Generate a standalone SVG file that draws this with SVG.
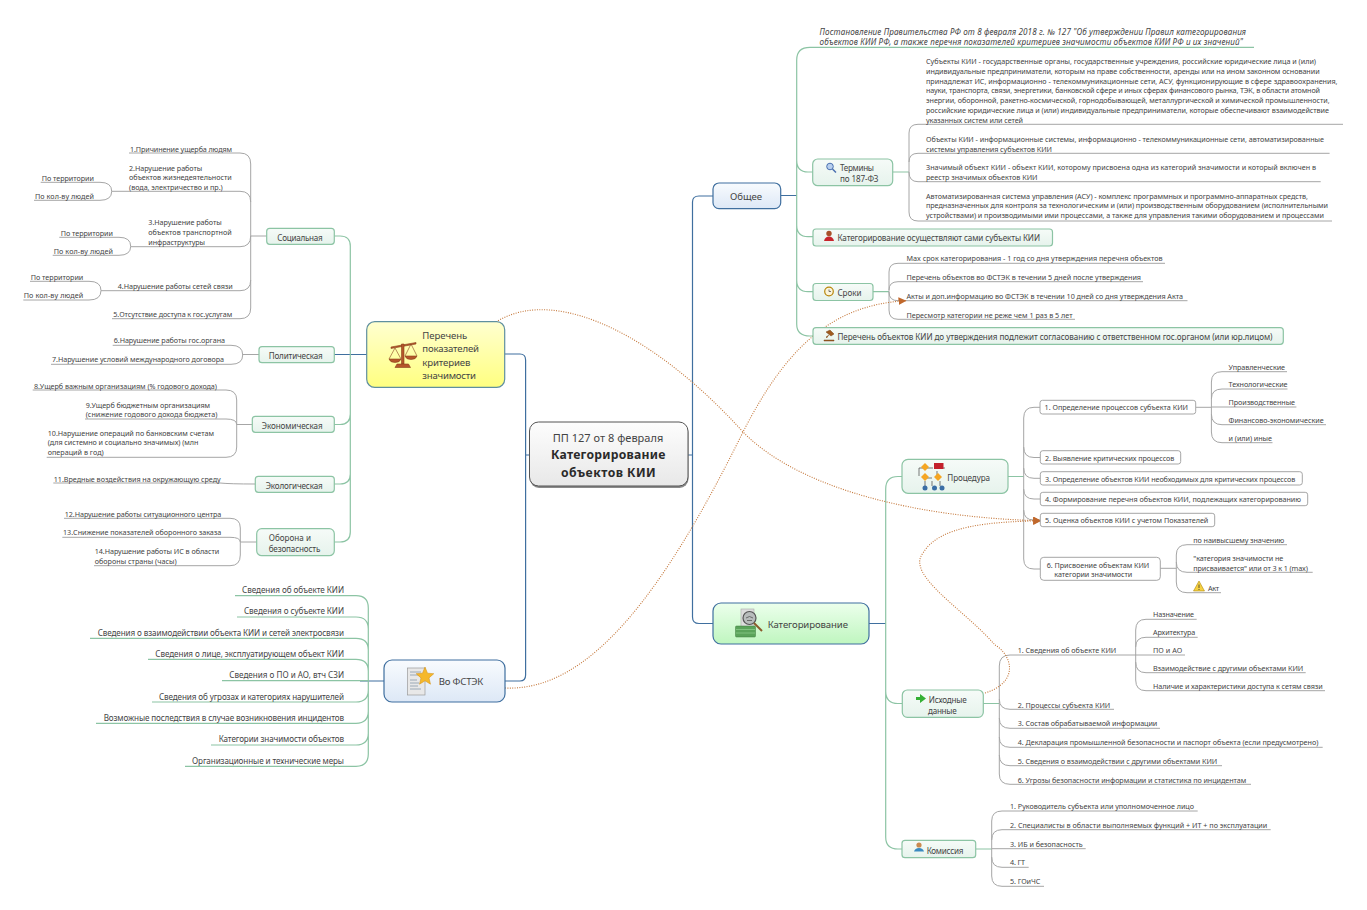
<svg xmlns="http://www.w3.org/2000/svg" width="1367" height="910" viewBox="0 0 1367 910">
<style>
text{font-family:"Noto Sans","Open Sans","Liberation Sans",sans-serif;font-size:7.2px;fill:#444;dominant-baseline:central}
.m{font-size:8.1px}.l{font-size:9.6px}.b{font-size:12.2px;font-weight:700;fill:#2a2a2a}.c{font-size:11px}.i{font-style:italic}
.g{fill:none;stroke:#a6a6a6;stroke-width:1}.e{fill:none;stroke:#8cc4a4;stroke-width:1.2}.u{fill:none;stroke:#3f6f9f;stroke-width:1.2}
.d{fill:none;stroke:#c4773a;stroke-width:1.1;stroke-dasharray:1 1.4}
.ng{fill:url(#gg);stroke:#8cc4a4;stroke-width:1.2}.nw{fill:#fff;stroke:#a6a6a6;stroke-width:1}
</style>
<defs>
<linearGradient id="gg" x1="0" y1="0" x2="0" y2="1"><stop offset="0" stop-color="#f6fbf8"/><stop offset="1" stop-color="#e6f3ec"/></linearGradient>
<linearGradient id="gc" x1="0" y1="0" x2="0" y2="1"><stop offset="0" stop-color="#fdfdfd"/><stop offset="1" stop-color="#e8e8e8"/></linearGradient>
<linearGradient id="gy" x1="0" y1="0" x2="0" y2="1"><stop offset="0" stop-color="#ffffd0"/><stop offset="1" stop-color="#ffff80"/></linearGradient>
<linearGradient id="gb" x1="0" y1="0" x2="0" y2="1"><stop offset="0" stop-color="#f8fbfe"/><stop offset="1" stop-color="#dde8f6"/></linearGradient>
<linearGradient id="gn" x1="0" y1="0" x2="0" y2="1"><stop offset="0" stop-color="#ecffec"/><stop offset="1" stop-color="#bff6bf"/></linearGradient>
<marker id="ar" markerWidth="9" markerHeight="9" refX="7.5" refY="4" orient="auto" markerUnits="userSpaceOnUse"><path d="M0 0L8 4L0 8z" fill="#c0682c"/></marker>
</defs>

<g id="connectors">
<path class="u" d="M505 354H520Q525.6 354 525.6 360V675Q525.6 681 520 681H505M525.6 455H530"/>
<path class="u" d="M688 455H692.5M713 196H699Q692.5 196 692.5 202V617Q692.5 623.5 699 623.5H713M869 623.5H886M781 195.500H797"/>
<path class="u" d="M334 354.500H367M360 681H384"/>
<path class="e" d="M1254 47.300H810Q796.700 47.300 796.700 60V324Q796.700 336 810 336H813M796.700 160Q796.700 172 808 172H813M796.700 225Q796.700 236.700 808 236.700H813M796.700 280Q796.700 291.700 808 291.700H813"/>
<path class="e" d="M893 172H909M873 291.700H889M1008 476.500H1023.700M983 703.500H999.300M976 849H991.700"/>
<path class="e" d="M902 476.500H898Q885.700 476.500 885.700 489V837Q885.700 849 898 849H902M885.700 691Q885.700 703.500 898 703.500H902"/>
<path class="e" d="M334 236H340Q350.300 236 350.300 246V532Q350.300 542 340 542H334M350.300 414Q350.300 424.500 340 424.500H334M350.300 474Q350.300 484 340 484H334"/>
<path class="e" d="M235 595.700H356Q368.300 595.700 368.300 608V754Q368.300 766.300 356 766.300H185M237 617H356Q368.300 617 368.300 629M90 638.300H356Q368.300 638.300 368.300 650M148 659.300H356Q368.300 659.300 368.300 671M222 680.700H368.300M152 702H356Q368.300 702 368.300 690M96 723.300H356Q368.300 723.300 368.300 711M211 745H356Q368.300 745 368.300 733"/>
<g class="g">
<path class="g" d="M918 221H1332M918 124.300H1343M918 221Q909 221 909 212V133Q909 124.300 918 124.300M918 153.300H1329.600M909 162Q909 153.300 918 153.300M918 181.700H1320.700M909 172Q909 181.700 918 181.700"/>
<path class="g" d="M1165 263.300H898Q889 263.300 889 272V310Q889 319.300 898 319.300H1075M889 290Q889 281.700 898 281.700H1143M889 292Q889 300.700 898 300.700H1187.500"/>
<path class="g" d="M1040 407.300H1034Q1023.700 407.300 1023.700 418V559Q1023.700 569 1034 569H1040M1023.700 447Q1023.700 457.500 1034 457.500H1040M1023.700 468Q1023.700 478.300 1034 478.300H1040M1023.700 489Q1023.700 499 1034 499H1040M1023.700 510Q1023.700 520 1034 520H1040"/>
<path class="g" d="M1196 407.300H1211.400M1287 371.700H1222Q1211.400 371.700 1211.400 382V432Q1211.400 442.700 1222 442.700H1272.500M1211.400 399Q1211.400 389 1222 389H1287.500M1211.400 407H1296.400M1211.400 414Q1211.400 424.700 1222 424.700H1326"/>
<path class="g" d="M1160 568.300H1176.300M1287 544.700H1187Q1176.300 544.700 1176.300 555V582Q1176.300 592.700 1187 592.700H1221M1176.300 562Q1176.300 572.300 1187 572.300H1312.700"/>
<path class="g" d="M1136 655H1010Q999.300 655 999.300 666V774Q999.300 784.300 1010 784.300H1251M999.300 699Q999.300 709.300 1010 709.300H1114M999.300 718Q999.300 728.300 1010 728.300H1160M999.300 737Q999.300 747.300 1010 747.300H1322.700M999.300 755Q999.300 765.700 1010 765.700H1222"/>
<path class="g" d="M1196.700 619.300H1146Q1135.700 619.300 1135.700 630V680Q1135.700 690.700 1146 690.700H1325M1135.700 647Q1135.700 637.300 1146 637.300H1197.700M1135.700 655H1185M1135.700 662Q1135.700 672.700 1146 672.700H1305.700"/>
<path class="g" d="M1197.700 811H1002Q991.700 811 991.700 821V876Q991.700 886.300 1002 886.300H1044M991.700 840Q991.700 829.700 1002 829.700H1270.700M991.700 848.700H1085.700M991.700 857Q991.700 867.300 1002 867.300H1028.700"/>
<path class="g" d="M129 153H240Q250.700 153 250.700 164V308Q250.700 318.700 240 318.700H112M111.700 191.300H240Q250.700 191.300 250.700 202M130.700 246.700H240Q250.700 246.700 250.700 236M101 290.700H240Q250.700 290.700 250.700 280M250.700 236H267"/>
<path class="g" d="M40.700 182.300H100Q111.700 182.300 111.700 191.300Q111.700 200.300 100 200.300H34M59.300 237.300H119Q130.700 237.300 130.700 246.300Q130.700 255.300 119 255.300H52.700M30 281.300H89Q101 281.300 101 290.500Q101 300 89 300H23.300"/>
<path class="g" d="M112.700 345.300H231Q242.700 345.300 242.700 355Q242.700 364.300 231 364.300H51M242.700 354.500H259"/>
<path class="g" d="M32.700 390H226Q236.700 390 236.700 400V447Q236.700 457.300 226 457.300H46.700M85 419H226Q236.700 419 236.700 424.500M236.700 424.500H252"/>
<path class="g" d="M53.300 483H220Q230 484 255 484"/>
<path class="g" d="M64 518.300H230Q240.300 518.300 240.300 528V555Q240.300 565.700 230 565.700H94M62.300 537.300H230Q240.300 537.300 240.300 542M240.300 542H257"/>
</g>
<path class="d" marker-end="url(#ar)" d="M505 688C590 692 665 590 743 432C785 350 830 305 906 300.700"/>
<path class="d" marker-end="url(#ar)" d="M498 320.700C560 285 660 340 743 432C800 490 920 518 1040.700 520.700"/>
<path class="d" marker-end="url(#ar)" d="M985 693C1020 682 1012 655 995 645C965 610 905 575 923 553C940 525 990 522 1040.700 520.700"/>
</g>

<g id="n-center"><rect x="530" y="424" width="158.500" height="64" rx="9" fill="#8a8a8a"/><rect x="529.500" y="422" width="158.500" height="64" rx="9" fill="url(#gc)" stroke="#555"/>
<text class="c" x="552.700" y="437.500" textLength="110.600">ПП 127 от 8 февраля</text><text class="b" x="551" y="454" textLength="114.300">Категорирование</text><text class="b" x="561" y="472" textLength="94.700">объектов КИИ</text></g>

<g id="n-perechen"><rect x="366.700" y="321.700" width="138" height="65.600" rx="8" fill="url(#gy)" stroke="#5f8f9f" stroke-width="1.2"/>
<g fill="#b5562a" stroke="#8a3f1c" stroke-width=".6"><path d="M391 347L416 342.500V344L391 348.500z"/><path d="M401.500 344h2.500v20h-2.500z"/><path d="M397 364h11.500l2 3.500h-15.500z"/><path d="M389 359h12q-1 3.500-6 3.500t-6-3.500zM405 356h12q-1 3.500-6 3.500t-6-3.500z"/><path fill="none" d="M395 348l-6 11M395 348l6 11M411 344l-6 12M411 344l6 12"/></g>
<text class="l" x="422.300" y="335" textLength="45">Перечень</text><text class="l" x="422.300" y="348.300" textLength="56.700">показателей</text><text class="l" x="422.300" y="362" textLength="48">критериев</text><text class="l" x="422.300" y="375.300" textLength="53.700">значимости</text></g>

<g id="n-fstek"><rect x="384" y="660" width="121" height="42" rx="8" fill="url(#gb)" stroke="#3f6f9f" stroke-width="1.2"/>
<rect x="407.500" y="668" width="17.500" height="27" fill="#e8e8e8" stroke="#9a9a9a" stroke-width=".7"/><path d="M410 672h11M410 675h11M410 680h7M410 683h9M410 686h8M410 689h11" stroke="#8899aa" stroke-width=".8" fill="none"/>
<path d="M425 667l2.500 6.200 6.300.5-4.800 4.200 1.500 6.300-5.500-3.400-5.500 3.400 1.500-6.300-4.800-4.200 6.300-.5z" fill="#f5b82a" stroke="#d08c10" stroke-width=".5"/>
<text class="l" x="438.700" y="681.700" textLength="44.600">Во ФСТЭК</text></g>

<g id="n-obshee"><rect x="713" y="183" width="67.700" height="25.700" rx="6" fill="url(#gb)" stroke="#3f6f9f" stroke-width="1.2"/><text class="l" x="730" y="196.700" textLength="32">Общее</text></g>

<g id="n-kat"><rect x="713" y="603" width="156" height="41" rx="8" fill="url(#gn)" stroke="#3f6f9f" stroke-width="1.2"/>
<rect x="741" y="609" width="13" height="19" fill="#ddd" stroke="#aaa" stroke-width=".6"/><rect x="735.500" y="626" width="20" height="11" rx="1" fill="#5aa35a" stroke="#3f7f3f" stroke-width=".5"/><path d="M736 629.500h19M736 633h19" stroke="#8fd08f" stroke-width=".7"/>
<circle cx="749.500" cy="618" r="6.500" fill="#b8bcbc" stroke="#555" stroke-width="1.200"/><path d="M746 618q3.500-3 7 0M747 620.500h5" stroke="#555" stroke-width=".8" fill="none"/><path d="M754 623l8 8" stroke="#8a5a2a" stroke-width="2"/>
<text class="l" x="767.700" y="624" textLength="80.300">Категорирование</text></g>

<g id="n-terms"><rect x="812.700" y="159" width="80" height="26.700" rx="5" class="ng"/><circle cx="830" cy="166.500" r="3.300" fill="#b8cfee" stroke="#4a70b0"/><path d="M832.500 169l3.500 3.500" stroke="#4a70b0" stroke-width="1.500"/>
<text class="m" x="840" y="167.500" textLength="34">Термины</text><text class="m" x="840" y="178.700" textLength="38.300">по 187-ФЗ</text></g>
<g id="n-katself"><rect x="813" y="229" width="239.500" height="17" rx="3" class="ng"/><circle cx="829" cy="233.500" r="2.700" fill="#a8502a"/><path d="M824 241q1-4.500 5-4.500t5 4.500z" fill="#c8242c"/><text class="m" x="837.500" y="237.700" textLength="202.500">Категорирование осуществляют сами субъекты КИИ</text></g>
<g id="n-sroki"><rect x="813" y="283.500" width="60" height="17" rx="3" class="ng"/><circle cx="829" cy="291.500" r="4.300" fill="#fbf4dc" stroke="#b8860b" stroke-width="1.200"/><path d="M829 289.500v2h2" stroke="#444" stroke-width=".7" fill="none"/><text class="m" x="837.500" y="292.700" textLength="24">Сроки</text></g>
<g id="n-soglas"><rect x="813" y="327.700" width="470.300" height="16.600" rx="3" class="ng"/><path d="M826 332l4-2 4 4-3 2zM829 335l-3 2 1 1M824 340h10v1h-10z" fill="#a05a1e" stroke="#7a4a20" stroke-width=".5"/><text class="m" x="837.500" y="336.300" textLength="435">Перечень объектов КИИ до утверждения подлежит согласованию с ответственном гос.органом (или юр.лицом)</text></g>
<g id="n-top"><text class="m i" x="819.600" y="31" textLength="426.400">Постановление Правительства РФ от 8 февраля 2018 г. № 127 "Об утверждении Правил категорирования</text><text class="m i" x="819.600" y="41.500" textLength="423.400">объектов КИИ РФ, а также перечня показателей критериев значимости объектов КИИ РФ и их значений"</text></g>
<g id="n-t1"><text x="926" y="60.700" textLength="390">Субъекты КИИ - государственные органы, государственные учреждения, российские юридические лица и (или)</text><text x="926" y="71" textLength="393.600">индивидуальные предприниматели, которым на праве собственности, аренды или на ином законном основании</text><text x="926" y="80.700" textLength="411.500">принадлежат ИС, информационно - телекоммуникационные сети, АСУ, функционирующие в сфере здравоохранения,</text><text x="926" y="90.300" textLength="394">науки, транспорта, связи, энергетики, банковской сфере и иных сферах финансового рынка, ТЭК, в области атомной</text><text x="926" y="100" textLength="403.600">энергии, оборонной, ракетно-космической, горнодобывающей, металлургической и химической промышленности,</text><text x="926" y="110" textLength="403">российские юридические лица и (или) индивидуальные предприниматели, которые обеспечивают взаимодействие</text><text x="926" y="120" textLength="97">указанных систем или сетей</text></g>
<g id="n-t2"><text x="926" y="138.700" textLength="398">Объекты КИИ - информационные системы, информационно - телекоммуникационные сети, автоматизированные</text><text x="926" y="148.700" textLength="126">системы управления субъектов КИИ</text></g>
<g id="n-t3"><text x="926" y="167.300" textLength="390">Значимый объект КИИ - объект КИИ, которому присвоена одна из категорий значимости и который включен в</text><text x="926" y="176.700" textLength="111.500">реестр значимых объектов КИИ</text></g>
<g id="n-t4"><text x="926" y="195.700" textLength="382">Автоматизированная система управления (АСУ) - комплекс программных и программно-аппаратных средств,</text><text x="926" y="205.300" textLength="402">предназначенных для контроля за технологическим и (или) производственным оборудованием (исполнительными</text><text x="926" y="215.300" textLength="398">устройствами) и производимыми ими процессами, а также для управления такими оборудованием и процессами</text></g>
<g id="n-s1"><text x="906.500" y="258.300" textLength="256">Max срок категорирования - 1 год со дня утверждения перечня объектов</text></g>
<g id="n-s2"><text x="906.500" y="277.300" textLength="234.500">Перечень объектов во ФСТЭК в течении 5 дней после утверждения</text></g>
<g id="n-s3"><text x="906.500" y="296.300" textLength="276.500">Акты и доп.информацию во ФСТЭК в течении 10 дней со дня утверждения Акта</text></g>
<g id="n-s4"><text x="906.500" y="315" textLength="166">Пересмотр категории не реже чем 1 раз в 5 лет</text></g>

<g id="n-proc"><rect x="902" y="459.300" width="106" height="34" rx="6" class="ng"/>
<path d="M919 476V468H933M945 468H937M932 478H925M937 471V476M925 481V486M932 481V486M940 481V486" stroke="#444" stroke-width=".7" fill="none"/>
<path d="M925 463l4 4-4 4-4-4zM925 473l4 4-4 4-4-4zM938 473l4 4-4 4-4-4z" fill="#f5a623"/><rect x="934" y="463" width="9.500" height="6" fill="#c3202c"/><circle cx="925" cy="488" r="2.500" fill="#3a6ea5"/><circle cx="934.500" cy="488" r="2.500" fill="#3a6ea5"/><circle cx="942" cy="488" r="2.500" fill="#3a6ea5"/>
<text class="m" x="947.300" y="477.300" textLength="42.700">Процедура</text></g>
<g id="n-p1"><rect x="1040" y="400.300" width="155.700" height="13.700" rx="2.500" class="nw"/><text x="1044.600" y="407.300" textLength="143.400">1. Определение процессов субъекта КИИ</text></g>
<g id="n-p11"><text x="1228.600" y="366.700" textLength="56.400">Управленческие</text></g>
<g id="n-p12"><text x="1228.600" y="384.300" textLength="58.900">Технологические</text></g>
<g id="n-p13"><text x="1228.600" y="402.300" textLength="66.400">Производственные</text></g>
<g id="n-p14"><text x="1228.600" y="420" textLength="95">Финансово-экономические</text></g>
<g id="n-p15"><text x="1228.600" y="438" textLength="43.400">и (или) иные</text></g>
<g id="n-p2"><rect x="1040.300" y="450.700" width="140.400" height="13.300" rx="2.500" class="nw"/><text x="1045" y="457.500" textLength="129.300">2. Выявление критических процессов</text></g>
<g id="n-p3"><rect x="1040.300" y="471.700" width="262" height="13.300" rx="2.500" class="nw"/><text x="1045" y="478.500" textLength="250.300">3. Определение объектов КИИ необходимых для критических процессов</text></g>
<g id="n-p4"><rect x="1040.300" y="492.300" width="267.400" height="13.400" rx="2.500" class="nw"/><text x="1045" y="499.300" textLength="256">4. Формирование перечня объектов КИИ, подлежащих категорированию</text></g>
<g id="n-p5"><rect x="1040.300" y="513.300" width="174.400" height="13.400" rx="2.500" class="nw"/><text x="1045" y="520.300" textLength="163.300">5. Оценка объектов КИИ с учетом Показателей</text></g>
<g id="n-p6"><rect x="1040.300" y="557.300" width="120" height="23" rx="3.500" class="nw"/><text x="1046.700" y="564.700" textLength="102.600">6. Присвоение объектам КИИ</text><text x="1054.300" y="574.300" textLength="78">категории значимости</text></g>
<g id="n-p61"><text x="1193.300" y="540" textLength="91">по наивысшему значению</text></g>
<g id="n-p62"><text x="1193.300" y="558" textLength="90">"категория значимости не</text><text x="1193.300" y="567.700" textLength="114.700">присваивается" или от 3 к 1 (max)</text></g>
<g id="n-p63"><path d="M1199 581l5.500 10h-11z" fill="#f5d040" stroke="#b08a10" stroke-width=".6"/><path d="M1199 584.500v3.500M1199 589v1" stroke="#333" stroke-width=".8"/><text x="1208" y="587.700" textLength="11">Акт</text></g>

<g id="n-ish"><rect x="902.300" y="690" width="81" height="27.300" rx="5" class="ng"/><path d="M916 697h4v-3l6 4.500-6 4.500v-3h-4z" fill="#35b035"/><text class="m" x="928.700" y="699" textLength="38">Исходные</text><text class="m" x="928" y="710" textLength="28.700">данные</text></g>
<g id="n-i1"><text x="1017.700" y="650.300" textLength="98.600">1. Сведения об объекте КИИ</text></g>
<g id="n-i11"><text x="1153" y="614.300" textLength="41">Назначение</text></g>
<g id="n-i12"><text x="1153" y="632.300" textLength="42.300">Архитектура</text></g>
<g id="n-i13"><text x="1153" y="650" textLength="29.300">ПО и АО</text></g>
<g id="n-i14"><text x="1153" y="667.700" textLength="150.300">Взаимодействие с другими объектами КИИ</text></g>
<g id="n-i15"><text x="1153" y="685.700" textLength="169.700">Наличие и характеристики доступа к сетям связи</text></g>
<g id="n-i2"><text x="1017.700" y="704.700" textLength="92.600">2. Процессы субъекта КИИ</text></g>
<g id="n-i3"><text x="1017.700" y="723.300" textLength="139.600">3. Состав обрабатываемой информации</text></g>
<g id="n-i4"><text x="1017.700" y="742" textLength="300.600">4. Декларация промышленной безопасности и паспорт объекта (если предусмотрено)</text></g>
<g id="n-i5"><text x="1017.700" y="760.700" textLength="199.600">5. Сведения о взаимодействии с другими объектами КИИ</text></g>
<g id="n-i6"><text x="1017.700" y="779.700" textLength="228.600">6. Угрозы безопасности информации и статистика по инцидентам</text></g>

<g id="n-kom"><rect x="902" y="840.300" width="73.700" height="17.400" rx="3" class="ng"/><circle cx="919" cy="845" r="2.600" fill="#c98a50"/><path d="M914 851.500q1-3.500 5-3.500t5 3.500z" fill="#3a8ac0"/><text class="m" x="926.700" y="850" textLength="36.600">Комиссия</text></g>
<g id="n-k1"><text x="1010" y="806.300" textLength="184">1. Руководитель субъекта или уполномоченное лицо</text></g>
<g id="n-k2"><text x="1010" y="825" textLength="257.300">2. Специалисты в области выполняемых функций + ИТ + по эксплуатации</text></g>
<g id="n-k3"><text x="1010" y="843.700" textLength="72.700">3. ИБ и безопасность</text></g>
<g id="n-k4"><text x="1010" y="862.300" textLength="15">4. ГТ</text></g>
<g id="n-k5"><text x="1010" y="881" textLength="30.300">5. ГОиЧС</text></g>

<g id="n-soc"><rect x="266.700" y="228.300" width="67.600" height="16" rx="3" class="ng"/><text class="m" x="277.300" y="237" textLength="45.400">Социальная</text></g>
<g id="n-a1"><text x="130" y="148.700" textLength="102">1.Причинение ущерба людям</text></g>
<g id="n-a2"><text x="129" y="167.700" textLength="73.300">2.Нарушение работы</text><text x="129" y="177.300" textLength="102.700">объектов жизнедеятельности</text><text x="129" y="187" textLength="93.700">(вода, электричество и пр.)</text></g>
<g id="n-a21"><text x="41.700" y="177.700" textLength="52.300">По территории</text></g>
<g id="n-a22"><text x="35" y="195.700" textLength="59">По кол-ву людей</text></g>
<g id="n-a3"><text x="148.300" y="222" textLength="73.400">3.Нарушение работы</text><text x="148.300" y="232" textLength="83.400">объектов транспортной</text><text x="148.300" y="241.700" textLength="56.700">инфраструктуры</text></g>
<g id="n-a31"><text x="60.700" y="232.700" textLength="52.300">По территории</text></g>
<g id="n-a32"><text x="53.700" y="250.700" textLength="59.300">По кол-ву людей</text></g>
<g id="n-a4"><text x="117.700" y="286.300" textLength="115">4.Нарушение работы сетей связи</text></g>
<g id="n-a41"><text x="30.700" y="277.300" textLength="52.600">По территории</text></g>
<g id="n-a42"><text x="23.700" y="295.300" textLength="59.600">По кол-ву людей</text></g>
<g id="n-a5"><text x="113.300" y="314" textLength="119">5.Отсутствие доступа к гос.услугам</text></g>

<g id="n-pol"><rect x="259" y="346.700" width="75.300" height="16" rx="3" class="ng"/><text class="m" x="268.700" y="355.300" textLength="54">Политическая</text></g>
<g id="n-a6"><text x="113.700" y="340.300" textLength="111.300">6.Нарушение работы гос.органа</text></g>
<g id="n-a7"><text x="52" y="359.300" textLength="172">7.Нарушение условий международного договора</text></g>

<g id="n-eco"><rect x="252.300" y="416.300" width="82" height="16" rx="3" class="ng"/><text class="m" x="261.700" y="425" textLength="61">Экономическая</text></g>
<g id="n-a8"><text x="34" y="385.700" textLength="183">8.Ущерб важным организациям (% годового дохода)</text></g>
<g id="n-a9"><text x="85.700" y="404.700" textLength="124.300">9.Ущерб бюджетным организациям</text><text x="85.700" y="414.300" textLength="131.600">(снижение годового дохода бюджета)</text></g>
<g id="n-a10"><text x="47.700" y="432.700" textLength="166.300">10.Нарушение операций по банковским счетам</text><text x="47.700" y="442.300" textLength="150.600">(для системно и социально значимых) (млн</text><text x="47.700" y="452.300" textLength="56">операций в год)</text></g>

<g id="n-ecl"><rect x="255.300" y="476.300" width="79" height="16" rx="3" class="ng"/><text class="m" x="265.700" y="485" textLength="57">Экологическая</text></g>
<g id="n-a11"><text x="53.700" y="479.300" textLength="167">11.Вредные воздействия на окружающую среду</text></g>

<g id="n-obo"><rect x="256.700" y="528.700" width="77.600" height="27" rx="5" class="ng"/><text class="m" x="268.700" y="537.300" textLength="42.300">Оборона и</text><text class="m" x="268.700" y="548.300" textLength="51.600">безопасность</text></g>
<g id="n-a12"><text x="64.700" y="513.700" textLength="156.600">12.Нарушение работы ситуационного центра</text></g>
<g id="n-a13"><text x="63" y="532.300" textLength="158.300">13.Снижение показателей оборонного заказа</text></g>
<g id="n-a14"><text x="94.700" y="551.300" textLength="124.600">14.Нарушение работы ИС в области</text><text x="94.700" y="560.700" textLength="82">обороны страны (часы)</text></g>

<g id="n-f1"><text class="m" x="242" y="589.300" textLength="102">Сведения об объекте КИИ</text></g>
<g id="n-f2"><text class="m" x="244" y="610.700" textLength="100">Сведения о субъекте КИИ</text></g>
<g id="n-f3"><text class="m" x="97.700" y="632" textLength="246.300">Сведения о взаимодействии объекта КИИ и сетей электросвязи</text></g>
<g id="n-f4"><text class="m" x="155.300" y="653.300" textLength="188.700">Сведения о лице, эксплуатирующем объект КИИ</text></g>
<g id="n-f5"><text class="m" x="229.300" y="674.700" textLength="114.700">Сведения о ПО и АО, втч СЗИ</text></g>
<g id="n-f6"><text class="m" x="159" y="696" textLength="185">Сведения об угрозах и категориях нарушителей</text></g>
<g id="n-f7"><text class="m" x="103.700" y="717.300" textLength="240.300">Возможные последствия в случае возникновения инцидентов</text></g>
<g id="n-f8"><text class="m" x="218.700" y="738.700" textLength="125.300">Категории значимости объектов</text></g>
<g id="n-f9"><text class="m" x="192" y="760" textLength="152">Организационные и технические меры</text></g>
</svg>
